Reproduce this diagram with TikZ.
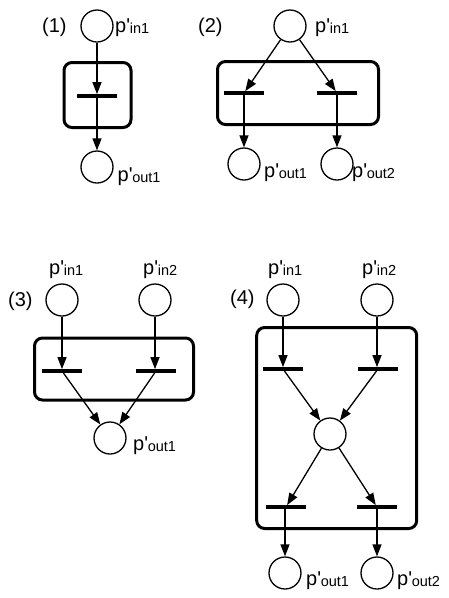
\documentclass[tikz,border=0pt]{standalone}
\usepackage{fontspec}
\setmainfont{Liberation Sans}
\usetikzlibrary{arrows.meta}
\newcommand{\plab}[1]{p\textquotesingle\kern-0.3pt\raisebox{-1.5pt}{\fontsize{14.5}{14.5}\selectfont #1}}
\begin{document}
\begin{tikzpicture}[x=1pt,y=-1pt,
 place/.style={circle,draw,line width=1.3pt,minimum size=32pt,inner sep=0},
 trans/.style={rectangle,fill=black,minimum width=40pt,minimum height=3.4pt,inner sep=0},
 grp/.style={draw,line width=3pt,rounded corners=8pt,inner sep=0},
 arc/.style={line width=1.3pt,-{Triangle[length=12pt,width=9pt]}},
 lbl/.style={font=\fontsize{20}{20}\selectfont,inner sep=0,anchor=base west}]
\useasboundingbox (0,0) rectangle (449,598);

% ---------- (1)
\node[grp,minimum width=67pt,minimum height=65pt] (g1) at (97.5,95) {};
\node[place] (a1) at (97,26) {};
\node[trans] (at1) at (97,96) {};
\node[place] (ao1) at (97,167) {};
\draw[arc] (a1) -- (at1);
\draw[arc] (at1) -- (ao1);
\node[lbl] (an) at (42,32) {(1)};
\node[lbl] (al1) at (115,32) {\plab{in1}};
\node[lbl] (al2) at (117.5,181) {\plab{out1}};

% ---------- (2)
\node[grp,minimum width=161pt,minimum height=63pt] (g2) at (298,93) {};
\node[place] (b1) at (290,26) {};
\node[trans] (bt1) at (244,93) {};
\node[trans] (bt2) at (337,93) {};
\node[place] (bo1) at (244,164) {};
\node[place] (bo2) at (337,164) {};
\draw[arc] (b1) -- (bt1);
\draw[arc] (b1) -- (bt2);
\draw[arc] (bt1) -- (bo1);
\draw[arc] (bt2) -- (bo2);
\node[lbl] (bn) at (198,32) {(2)};
\node[lbl] (bl1) at (315,32) {\plab{in1}};
\node[lbl] (bl2) at (264,177) {\plab{out1}};
\node[lbl] (bl3) at (352,177) {\plab{out2}};

% ---------- (3)
\node[grp,minimum width=159pt,minimum height=62pt] (g3) at (114,369) {};
\node[place] (c1) at (62,300) {};
\node[place] (c2) at (155,300) {};
\node[trans] (ct1) at (62,371) {};
\node[trans] (ct2) at (156,371) {};
\node[place] (co1) at (110,438) {};
\draw[arc] (c1) -- (c1 |- ct1.north);
\draw[arc] (c2) -- (c2 |- ct2.north);
\draw[arc] (ct1) -- (co1);
\draw[arc] (ct2) -- (co1);
\node[lbl] (cn) at (8,306) {(3)};
\node[lbl] (cl1) at (49,274) {\plab{in1}};
\node[lbl] (cl2) at (143,274) {\plab{in2}};
\node[lbl] (cl3) at (133,450) {\plab{out1}};

% ---------- (4)
\node[grp,minimum width=160pt,minimum height=201pt] (g4) at (336.7,428) {};
\node[place] (d1) at (283,300) {};
\node[place] (d2) at (377,300) {};
\node[trans] (dt1) at (283,369) {};
\node[trans] (dt2) at (378,369) {};
\node[place] (dm) at (330,434) {};
\node[trans] (dt3) at (286,507) {};
\node[trans] (dt4) at (377,507) {};
\node[place] (do1) at (285,573) {};
\node[place] (do2) at (377,573) {};
\draw[arc] (d1) -- (d1 |- dt1.north);
\draw[arc] (d2) -- (d2 |- dt2.north);
\draw[arc] (dt1) -- (dm);
\draw[arc] (dt2) -- (dm);
\draw[arc] (dm) -- (dt3);
\draw[arc] (dm) -- (dt4);
\draw[arc] (do1 |- dt3.south) -- (do1);
\draw[arc] (dt4) -- (do2);
\node[lbl] (dn) at (230,304) {(4)};
\node[lbl] (dl1) at (268,274) {\plab{in1}};
\node[lbl] (dl2) at (362,274) {\plab{in2}};
\node[lbl] (dl3) at (306,585) {\plab{out1}};
\node[lbl] (dl4) at (397,585) {\plab{out2}};
\end{tikzpicture}
\end{document}
